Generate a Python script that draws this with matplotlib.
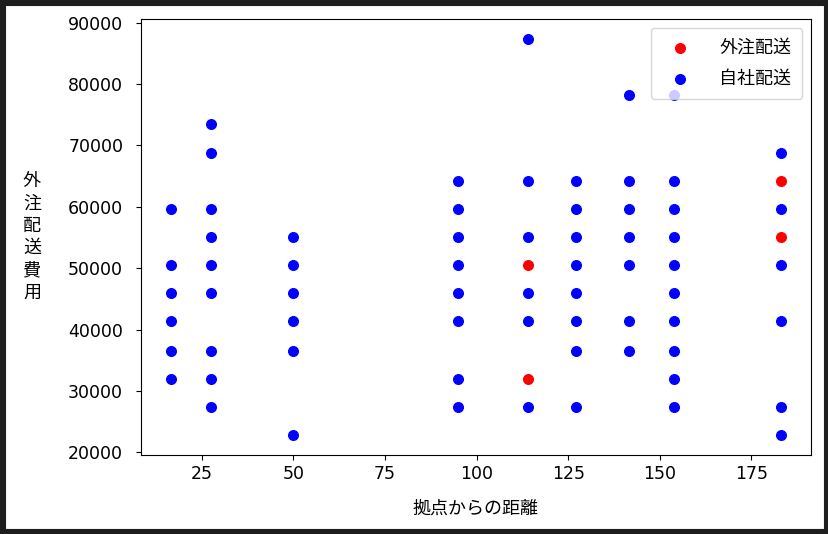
import matplotlib
matplotlib.use("Agg")
import matplotlib.pyplot as plt
from matplotlib.patches import Rectangle

plt.rcParams['font.family'] = ['Noto Sans CJK JP', 'DejaVu Sans']

# 外注配送 (outsourced)
out_x = [114, 114, 183, 183]
out_y = [50500, 31900, 64200, 55100]

# 自社配送 (in-house)
own_x = ([16.6] * 6 + [27.5] * 9 + [50] * 6 + [95] * 8 + [114] * 6 +
         [127] * 8 + [141.5] * 7 + [154] * 10 + [183] * 6)
own_y = ([59700, 50500, 46000, 41400, 36500, 31900] +
         [73400, 68800, 59700, 55100, 50500, 46000, 36500, 31900, 27400] +
         [55100, 50500, 46000, 41400, 36500, 22800] +
         [64200, 59700, 55100, 50500, 46000, 41400, 31900, 27400] +
         [87400, 64200, 55100, 46000, 41400, 27400] +
         [64200, 59700, 55100, 50500, 46000, 41400, 36500, 27400] +
         [78200, 64200, 59700, 55100, 50500, 41400, 36500] +
         [78200, 64200, 59700, 55100, 50500, 46000, 41400, 36500, 31900, 27400] +
         [68800, 59700, 50500, 41400, 27400, 22800])

fig = plt.figure(figsize=(8.29, 5.34), dpi=100)
ax = fig.add_axes([0.1695, 0.148, 0.809, 0.817])
ax.scatter(out_x, out_y, s=48, c='red', label='外注配送')
ax.scatter(own_x, own_y, s=48, c='blue', label='自社配送')
ax.set_xlabel('拠点からの距離', fontsize=13, labelpad=12)
ax.set_ylabel('外\n注\n配\n送\n費\n用', rotation=0, fontsize=13, va='center',
              labelpad=26, linespacing=1.3)
ax.tick_params(labelsize=12.5)
ax.tick_params(axis='y', pad=9)
for lab in ax.get_xticklabels() + ax.get_yticklabels():
    lab.set_family(['DejaVu Sans'])
ax.legend(loc='upper right', fontsize=13, labelspacing=0.75, borderpad=0.6,
          handletextpad=1.2)

fig.patches.append(Rectangle((0, 0), 1, 1, transform=fig.transFigure,
                             fill=False, edgecolor='#1e1e1e', linewidth=8, zorder=10))
fig.savefig('out.png', dpi=100)
